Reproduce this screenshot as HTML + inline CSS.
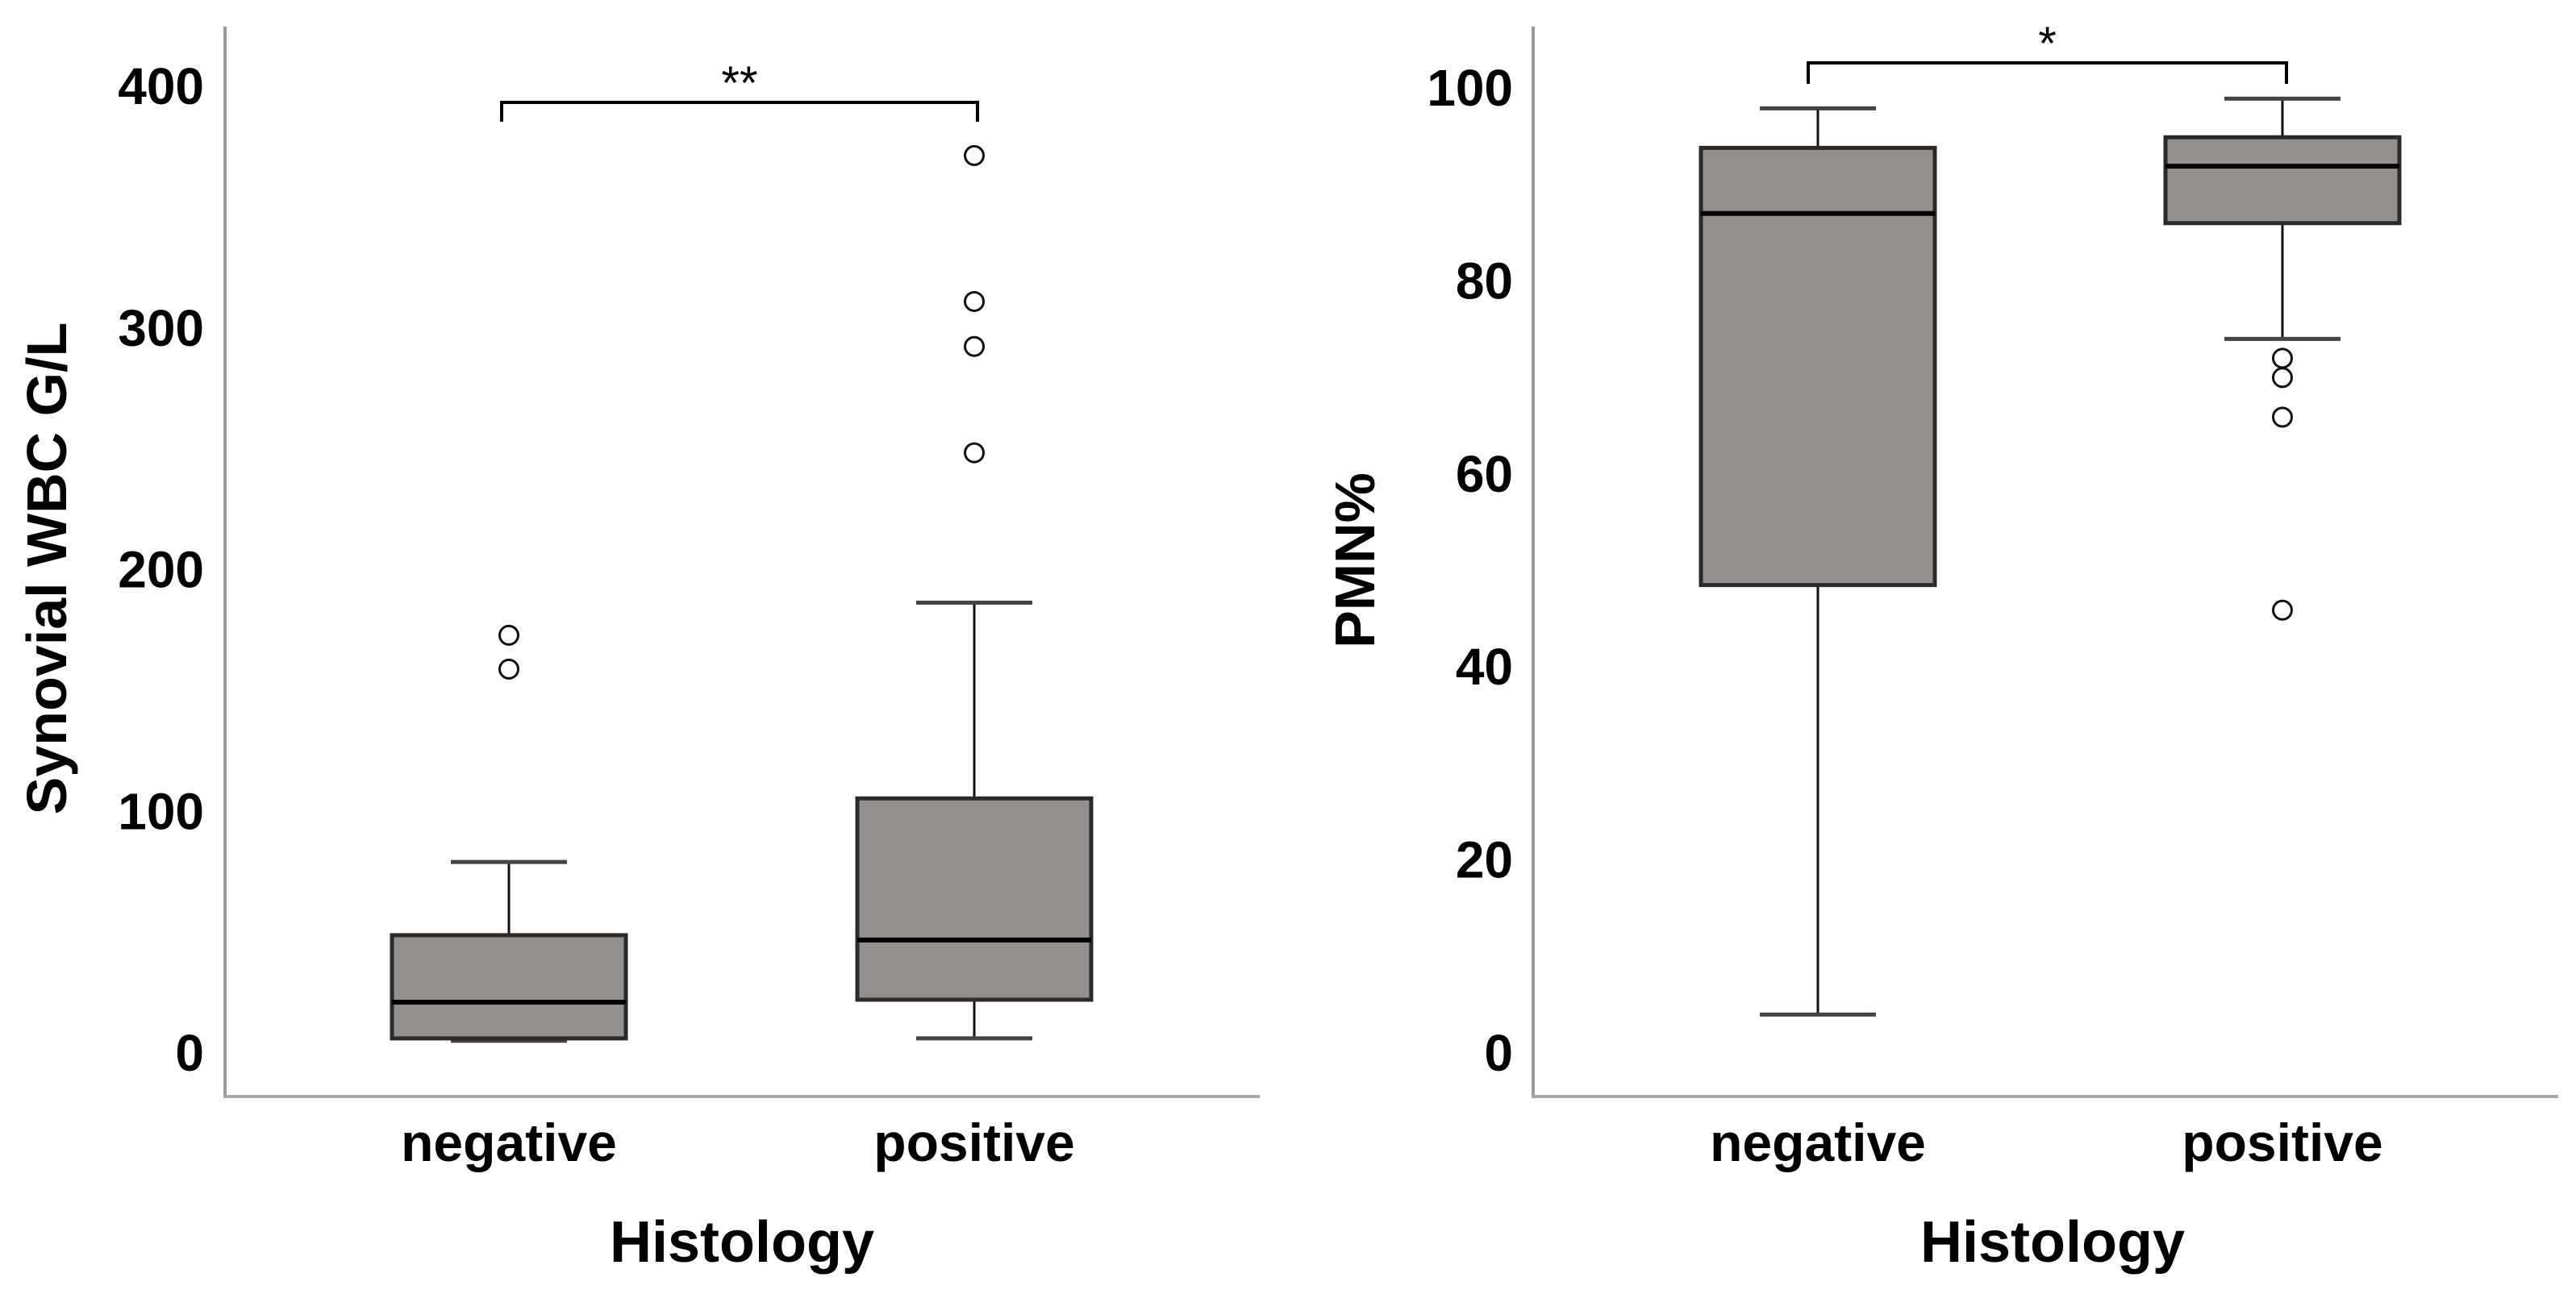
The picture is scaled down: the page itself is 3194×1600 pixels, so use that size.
<!DOCTYPE html>
<html><head><meta charset="utf-8"><style>
html,body{margin:0;padding:0;background:#fff;}
svg{display:block;font-family:"Liberation Sans",Arial,sans-serif;font-weight:bold;}
</style></head><body>
<svg id="chart" width="3194" height="1600" viewBox="0 0 3194 1600">
<g id="p1"></g>
<g id="p2"></g>
</svg>
<script>
const categories = ["negative", "positive"];
// Panel 1: Synovial WBC G/L
const wbcTicks = [0, 100, 200, 300, 400];
const wbcWhiskerLow = [4.7, 5.7];
const wbcQ1 = [5.7, 21.7];
const wbcMedian = [20.7, 46.4];
const wbcQ3 = [48.4, 105];
const wbcWhiskerHigh = [78.7, 186];
const wbcOutliers = [[172.5, 158.5], [371, 310.6, 292, 248]];
// Panel 2: PMN%
const pmnTicks = [0, 20, 40, 60, 80, 100];
const pmnWhiskerLow = [3.9, 73.9];
const pmnQ1 = [48.4, 85.9];
const pmnMedian = [86.9, 91.8];
const pmnQ3 = [93.7, 94.8];
const pmnWhiskerHigh = [97.8, 98.8];
const pmnOutliers = [[], [71.9, 69.9, 65.8, 45.8]];

const NS = "http://www.w3.org/2000/svg";
function mk(parent, tag, attrs, text) {
  const e = document.createElementNS(NS, tag);
  for (const k in attrs) e.setAttribute(k, attrs[k]);
  if (text !== undefined) e.textContent = text;
  parent.appendChild(e);
  return e;
}

function panel(g, cfg) {
  const y = v => cfg.y0 - (v - cfg.vmin) * (cfg.y0 - cfg.yTop) / (cfg.vmax - cfg.vmin);
  const x = i => cfg.xc[i];
  const ya = mk(g, "line", {x1: cfg.ax, y1: 33, x2: cfg.ax, y2: 1361, stroke: "#9a9a9a", "stroke-width": 4});
  
  
  const xa = mk(g, "line", {x1: cfg.ax - 2, y1: 1360, x2: cfg.axEnd, y2: 1360, stroke: "#a8a8a8", "stroke-width": 4});
  
  
  cfg.ticks.forEach(t => {
    const tl = mk(g, "text", {x: cfg.tickRight, y: y(t) + 23, "text-anchor": "end", "font-size": 64, fill: "#000"}, String(t));
    
    
  });
  categories.forEach((c, i) => {
    const cl = mk(g, "text", {x: x(i), y: 1440, "text-anchor": "middle", "font-size": 66, fill: "#000"}, c);
    
    
    const bg = mk(g, "g", {});
    
    
    const hw = 145, cw = 72;
    const wl = mk(bg, "line", {x1: x(i), y1: y(cfg.wl[i]), x2: x(i), y2: y(cfg.q1[i]), stroke: "#111", "stroke-width": 3});
    
    
    const wh = mk(bg, "line", {x1: x(i), y1: y(cfg.wh[i]), x2: x(i), y2: y(cfg.q3[i]), stroke: "#111", "stroke-width": 3});
    
    
    [cfg.wl[i], cfg.wh[i]].forEach(v => {
      const cap = mk(bg, "line", {x1: x(i) - cw, y1: y(v), x2: x(i) + cw, y2: y(v), stroke: "#444", "stroke-width": 5});
      
      
    });
    const r = mk(bg, "rect", {x: x(i) - hw, y: y(cfg.q3[i]), width: 2 * hw, height: y(cfg.q1[i]) - y(cfg.q3[i]), fill: "#938f8d", stroke: "#2a2a2a", "stroke-width": 5});
    
    
    const m = mk(bg, "line", {x1: x(i) - hw, y1: y(cfg.med[i]), x2: x(i) + hw, y2: y(cfg.med[i]), stroke: "#000", "stroke-width": 6});
    
    
    cfg.out[i].forEach(v => {
      const o = mk(bg, "circle", {cx: x(i), cy: y(v), r: 11.5, fill: "none", stroke: "#111", "stroke-width": 3});
      
      
    });
  });
  const b = mk(g, "path", {d: `M${cfg.br[0]},${cfg.brLow} V${cfg.brY} H${cfg.br[1]} V${cfg.brLow}`, fill: "none", stroke: "#000", "stroke-width": 4});
  
  
  const s = mk(g, "text", {x: (cfg.br[0] + cfg.br[1]) / 2, y: cfg.brY - 4, "text-anchor": "middle", "font-size": 58, "font-weight": "normal", fill: "#000"}, cfg.star);
  
  
  const xt = mk(g, "text", {x: cfg.xTitleX, y: 1565, "text-anchor": "middle", "font-size": 72, fill: "#000"}, "Histology");
  
  
  const yt = mk(g, "text", {x: 0, y: 0, "text-anchor": "middle", "font-size": 70, fill: "#000", transform: `translate(${cfg.yTitleX},${cfg.yTitleY}) rotate(-90)`}, cfg.yTitle);
  
  
}

panel(document.getElementById("p1"), {
  vmin: 0, vmax: 400, y0: 1305, yTop: 106, ax: 279, axEnd: 1562, tickRight: 253,
  xc: [631, 1208], ticks: wbcTicks, wl: wbcWhiskerLow, q1: wbcQ1, med: wbcMedian, q3: wbcQ3, wh: wbcWhiskerHigh, out: wbcOutliers,
  br: [622, 1212], brY: 127, brLow: 151, star: "**", xTitleX: 920, yTitle: "Synovial WBC G/L", yTitleX: 82, yTitleY: 705
});
panel(document.getElementById("p2"), {
  vmin: 0, vmax: 100, y0: 1305, yTop: 108, ax: 1901, axEnd: 3172, tickRight: 1876,
  xc: [2254, 2830], ticks: pmnTicks, wl: pmnWhiskerLow, q1: pmnQ1, med: pmnMedian, q3: pmnQ3, wh: pmnWhiskerHigh, out: pmnOutliers,
  br: [2242, 2835], brY: 78, brLow: 104, star: "*", xTitleX: 2545, yTitle: "PMN%", yTitleX: 1704, yTitleY: 695
});
</script>
</body></html>
